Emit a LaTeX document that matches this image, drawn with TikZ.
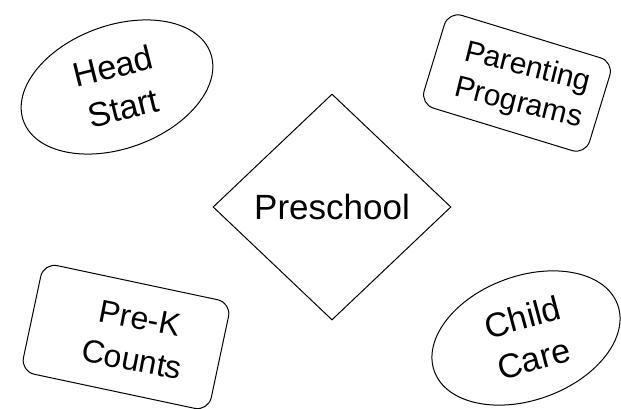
\documentclass[tikz,border=0pt]{standalone}
\usepackage{fontspec}
\setmainfont{Liberation Sans}
\usetikzlibrary{shapes.geometric}
\begin{document}
\begin{tikzpicture}[x=1pt,y=-1pt]
\tikzset{
  base/.style={draw=black, line width=1pt, inner sep=0pt},
  oval/.style={base, ellipse},
  card/.style={base, rectangle, rounded corners=14pt},
  dia/.style={base, diamond},
  lbl/.style={align=center, inner sep=0pt}
}
\useasboundingbox[fill=white] (0,0) rectangle (621,409);
\node[dia, minimum width=238pt, minimum height=226pt] (pre) at (332,207) {};
\node[lbl, font=\fontsize{35}{40}\selectfont] (pret) at (pre.center) {Preschool};
\node[oval, minimum width=199pt, minimum height=123pt, rotate=20] (hs) at (117,87) {};
\node[lbl, rotate=14, font=\fontsize{34}{43}\selectfont] (hst) at (118,87) {Head\\Start};
\node[oval, minimum width=195pt, minimum height=124pt, rotate=20] (cc) at (526,338) {};
\node[lbl, rotate=15, font=\fontsize{34}{43}\selectfont] (cct) at (528,338) {Child\\Care};
\node[card, minimum width=173pt, minimum height=97pt, rotate=-17] (pp) at (517,83) {};
\node[lbl, rotate=-14, font=\fontsize{30}{37}\selectfont] (ppt) at (523,86) {Parenting\\Programs};
\node[card, minimum width=192pt, minimum height=111pt, rotate=-12] (pk) at (126,337) {};
\node[lbl, rotate=-11, font=\fontsize{32}{42}\selectfont] (pkt) at (136,339) {Pre-K\\Counts};
\end{tikzpicture}
\end{document}
